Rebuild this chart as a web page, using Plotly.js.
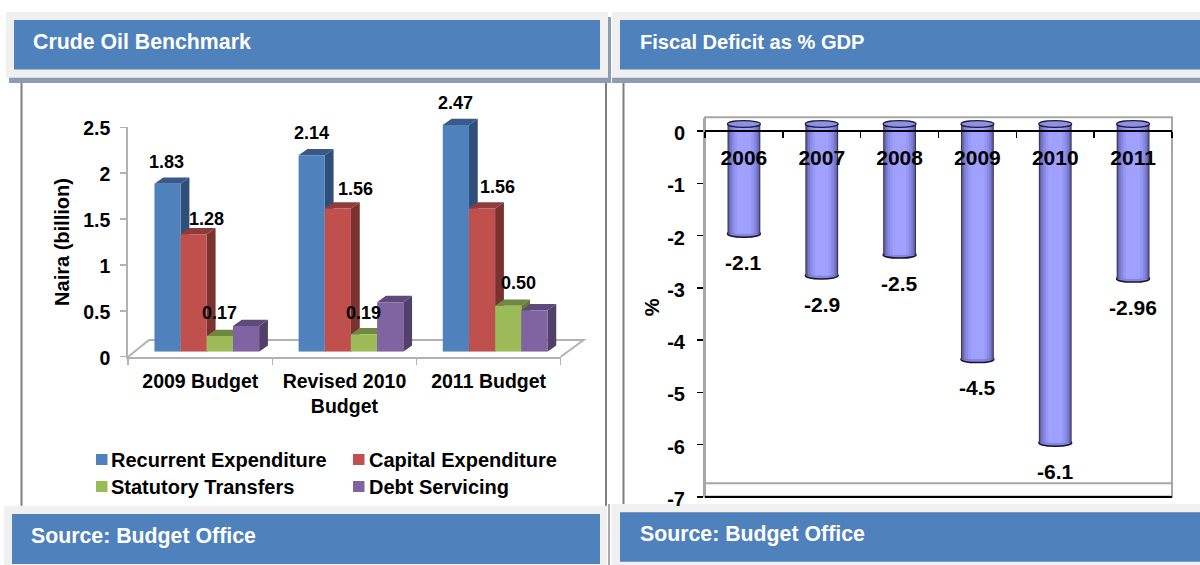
<!DOCTYPE html>
<html>
<head>
<meta charset="utf-8">
<script src="https://cdn.plot.ly/plotly-3.0.1.min.js"></script>
<style>html,body{margin:0;padding:0;background:#fff}#chart{width:1200px;height:565px}</style>
</head>
<body>
<div id="chart"></div>
<script>
// ---- data ----
var budgetCategories = ['2009 Budget', 'Revised 2010<br>Budget', '2011 Budget'];
var recurrent = [1.83, 2.14, 2.47];
var capital = [1.28, 1.56, 1.56];
var statutory = [0.17, 0.19, 0.50];
var debt = [0.28, 0.54, 0.45];
var recurrentLabels = ['1.83', '2.14', '2.47'];
var capitalLabels = ['1.28', '1.56', '1.56'];
var statutoryLabels = ['0.17', '0.19', '0.50'];
var seriesNames = ['Recurrent Expenditure', 'Capital Expenditure', 'Statutory Transfers', 'Debt Servicing'];
var years = ['2006', '2007', '2008', '2009', '2010', '2011'];
var deficit = [-2.1, -2.9, -2.5, -4.5, -6.1, -2.96];
var deficitLabels = ['-2.1', '-2.9', '-2.5', '-4.5', '-6.1', '-2.96'];
var leftTitle = 'Crude Oil Benchmark', rightTitle = 'Fiscal Deficit as % GDP', sourceText = 'Source: Budget Office';

// ---- styles ----
var FONT = '"Liberation Sans", Arial, sans-serif';
var W = 1200, H = 565;
function px(x) { return x / W; }
function py(y) { return 1 - y / H; }
var BLUE = '#4f81bd';
var frontColors = ['#4f81bd', '#c0504d', '#9bbb59', '#8064a2'];
var sideColors = ['#2f4f78', '#7a3230', '#62783a', '#514069'];
var topColors = ['#38598a', '#8f3b39', '#6f8741', '#5e4a79'];
var shapes = [], annotations = [];

function rect(x0, y0, x1, y1, color) {
  shapes.push({type: 'rect', xref: 'paper', yref: 'paper', layer: 'below',
    x0: px(x0), x1: px(x1), y0: py(y0), y1: py(y1), fillcolor: color, line: {width: 0}});
}
function seg(x0, y0, x1, y1, color, w) {
  shapes.push({type: 'line', xref: 'paper', yref: 'paper', layer: 'below',
    x0: px(x0), x1: px(x1), y0: py(y0), y1: py(y1), line: {color: color, width: w}});
}
function text(x, y, t, size, color) {
  annotations.push({xref: 'paper', yref: 'paper', x: px(x), y: py(y), text: '<b>' + t + '</b>', showarrow: false,
    xanchor: 'left', yanchor: 'middle', font: {family: FONT, size: size, color: color}});
}

// ---- panel chrome ----
var PANEL_LINE = '#7f7f7f', SHADOW = '#8c9db3', BAND = '#f0f0f0';
seg(21.5, 80, 21.5, 507, PANEL_LINE, 2);
seg(606, 80, 606, 507, PANEL_LINE, 2);
seg(623.5, 80, 623.5, 507, PANEL_LINE, 2);
rect(9, 17, 611, 83, SHADOW);
rect(6, 12, 608, 77.7, BAND);
rect(14, 20, 600, 69.5, BLUE);
rect(612, 17, 1200, 83, SHADOW);
rect(612, 12, 1200, 77.7, BAND);
rect(620, 20, 1200, 69.5, BLUE);
rect(4, 505.7, 607, 565, BAND);
rect(12, 514, 600, 564, BLUE);
rect(608, 504, 610, 565, '#a9a9a9');
rect(611.5, 504, 1200, 565, BAND);
rect(620, 512.3, 1200, 561.7, BLUE);
text(31, 42, leftTitle, 21.3, '#ffffff');
text(638, 42, rightTitle, 20.1, '#ffffff');
text(29, 536, sourceText, 21.3, '#ffffff');
text(638, 534, sourceText, 21.3, '#ffffff');

// ---- left chart: geometry ----
var LX0 = 128.2, LX1 = 560.7, LY0 = 356.7, LUNIT = 91.76;
var FRONT_DX = 6.5, FRONT_DY = 5, DEPTH_DX = 8.8, DEPTH_DY = 6.3;
var LYMAX = 2.75;
var CAT_PX = (LX1 - LX0) / 3;
var BAR_W = 0.1815;
var dxUnit = DEPTH_DX / CAT_PX, dyUnit = DEPTH_DY / LUNIT;
var AXIS_GREY = '#b2b2b2';

// floor of the 3-D box
shapes.push({type: 'path', xref: 'paper', yref: 'paper', layer: 'below',
  path: 'M' + px(LX0) + ',' + py(LY0) + 'L' + px(149) + ',' + py(340) + 'L' + px(583.6) + ',' + py(340) + 'L' + px(LX1) + ',' + py(LY0),
  line: {color: AXIS_GREY, width: 2}, fillcolor: 'rgba(0,0,0,0)'});

var allSeries = [recurrent, capital, statutory, debt];
var traces = [];
var catIdx = budgetCategories.map(function (_, i) { return i; });
allSeries.forEach(function (vals, s) {
  traces.push({type: 'bar', x: catIdx, y: vals, name: seriesNames[s], xaxis: 'x', yaxis: 'y',
    width: BAR_W, offset: (s - 2) * BAR_W,
    marker: {color: frontColors[s], line: {width: 0}}, hoverinfo: 'y+name', showlegend: false});
});
// depth faces, painted in series order, computed from the values
allSeries.forEach(function (vals, s) {
  vals.forEach(function (v, i) {
    var xl = i + (s - 2) * BAR_W, xr = xl + BAR_W;
    shapes.push({type: 'path', xref: 'x', yref: 'y', layer: 'below',
      path: 'M' + xr + ',0L' + (xr + dxUnit) + ',' + dyUnit + 'L' + (xr + dxUnit) + ',' + (v + dyUnit) + 'L' + xr + ',' + v + 'Z',
      fillcolor: sideColors[s], line: {width: 0}});
    shapes.push({type: 'path', xref: 'x', yref: 'y', layer: 'below',
      path: 'M' + xl + ',' + v + 'L' + (xl + dxUnit) + ',' + (v + dyUnit) + 'L' + (xr + dxUnit) + ',' + (v + dyUnit) + 'L' + xr + ',' + v + 'Z',
      fillcolor: topColors[s], line: {width: 0}});
  });
});
// value labels, anchored on the visible axes
var labelSets = [
  {s: 0, labels: recurrentLabels, dx: [-33.3, -33, -33.2], up: [27.1, 27.3, 26.7]},
  {s: 1, labels: capitalLabels, dx: [5.9, 11, 8.9], up: [20.5, 24.6, 26.9]},
  {s: 2, labels: statutoryLabels, dx: [19.4, 19, 29.5], up: [28.1, 26.6, 27.5]}
];
labelSets.forEach(function (set) {
  set.labels.forEach(function (t, i) {
    annotations.push({xref: 'x2', yref: 'y2', x: i, y: allSeries[set.s][i],
      xshift: set.dx[i], yshift: set.up[i], text: '<b>' + t + '</b>', showarrow: false,
      xanchor: 'center', yanchor: 'middle', font: {family: FONT, size: 18, color: '#000'}});
  });
});
// legend key
var legendPos = [[96, 459.5], [353, 459.5], [96, 486.5], [353, 486.5]];
var legendTextGap = [13, 14, 13, 14];
seriesNames.forEach(function (name, s) {
  rect(legendPos[s][0], legendPos[s][1] - 5.5, legendPos[s][0] + 11.5, legendPos[s][1] + 5.5, frontColors[s]);
  text(legendPos[s][0] + legendTextGap[s], legendPos[s][1], name, 20, '#000');
});

// ---- right chart: geometry ----
var RX0 = 705, RX1 = 1172, RY0 = 131, RUNIT = 52.27, RTOP = 0.256;
var R3D_Y = 124, RYMIN3 = -6.9, RYMAX3 = 0.25;
var CYL_W = 0.422;
// grey frame and floor lines
shapes.push({type: 'rect', xref: 'paper', yref: 'paper', layer: 'below',
  x0: px(RX0), x1: px(RX1), y0: py(496.6), y1: py(117.3), fillcolor: 'rgba(0,0,0,0)', line: {color: '#a6a6a6', width: 2}});
seg(RX0, 483.3, RX1, 483.3, '#a6a6a6', 2);
seg(RX0, 497, RX1, 497, '#000000', 2);

var yearIdx = years.map(function (_, i) { return i; });
// concentric bars build the cylinder's shading, each one drawn from the same values
var shadeWidths = [1, 0.93, 0.84, 0.72, 0.58, 0.42];
var shadeColors = ['#3a3a66', '#6464a8', '#7a7acb', '#8a8ae4', '#9696f6', '#a0a0ff'];
// bottom rims under the bars
deficit.forEach(function (v, i) {
  var ry = 3.4 / RUNIT;
  shapes.push({type: 'circle', xref: 'x3', yref: 'y3', layer: 'below',
    x0: i - CYL_W / 2, x1: i + CYL_W / 2, y0: v - ry, y1: v + ry,
    fillcolor: '#8585dd', line: {color: '#15152e', width: 1.5}});
});
shadeWidths.forEach(function (f, k) {
  traces.push({type: 'bar', x: yearIdx, y: deficit, width: CYL_W * f, offset: -CYL_W * f / 2, xaxis: 'x3', yaxis: 'y3', name: 'Fiscal deficit',
    marker: {color: shadeColors[k], line: {width: 0}}, hoverinfo: k === 0 ? 'y' : 'skip', showlegend: false});
});
// top caps
deficit.forEach(function (v, i) {
  var ry = 3.3 / RUNIT;
  shapes.push({type: 'circle', xref: 'x3', yref: 'y3', layer: 'above',
    x0: i - CYL_W / 2, x1: i + CYL_W / 2, y0: -ry, y1: ry,
    fillcolor: '#8f8fe8', line: {color: '#1c1c38', width: 1.2}});
});
deficitLabels.forEach(function (t, i) {
  annotations.push({xref: 'x4', yref: 'y4', x: i, y: deficit[i], yshift: -21.5, text: '<b>' + t + '</b>', showarrow: false,
    xanchor: 'center', yanchor: 'middle', font: {family: FONT, size: 21, color: '#000'}});
});

var hidden = {visible: false, fixedrange: true};
function axisFont(size) { return {family: FONT, size: size, color: '#000', weight: 700}; }
var layout = {
  width: W, height: H, autosize: false, showlegend: false,
  margin: {l: 0, r: 0, t: 0, b: 0, pad: 0},
  paper_bgcolor: '#ffffff', plot_bgcolor: 'rgba(0,0,0,0)',
  barmode: 'overlay',
  font: {family: FONT},
  shapes: shapes, annotations: annotations,
  // left bars (shifted front plane of the 3-D box)
  xaxis: Object.assign({}, hidden, {domain: [px(LX0 + FRONT_DX), px(LX1 + FRONT_DX)], range: [-0.5, 2.5], anchor: 'y'}),
  yaxis: Object.assign({}, hidden, {domain: [py(LY0 - FRONT_DY), py(LY0 - FRONT_DY - LYMAX * LUNIT)], range: [0, LYMAX], anchor: 'x'}),
  // left visible axes
  xaxis2: {domain: [px(LX0), px(LX1)], range: [-0.5, 2.5], anchor: 'y2', showgrid: false, zeroline: false,
    showline: true, linecolor: AXIS_GREY, linewidth: 2,
    tickmode: 'array', tickvals: catIdx, ticktext: budgetCategories,
    ticks: 'outside', ticklen: 6, tickcolor: 'rgba(0,0,0,0)', tickfont: axisFont(19.5),
    minor: {tickmode: 'array', tickvals: [-0.5, 0.5, 1.5, 2.5], ticks: 'outside', ticklen: 6, tickcolor: AXIS_GREY, tickwidth: 1.5}},
  yaxis2: {domain: [py(LY0), py(LY0 - 2.5 * LUNIT)], range: [0, 2.5], anchor: 'x2', showgrid: false, zeroline: false,
    showline: true, linecolor: AXIS_GREY, linewidth: 2, tickmode: 'array', tickvals: [0, 0.5, 1, 1.5, 2, 2.5],
    ticktext: ['0', '0.5', '1', '1.5', '2', '2.5'],
    ticks: 'outside', ticklen: 6, tickcolor: AXIS_GREY, tickwidth: 1.5, tickfont: axisFont(19.5), ticklabelstandoff: 6, ticklabelshift: 1,
    title: {text: '<b>Naira (billion)</b>', font: {family: FONT, size: 20, color: '#000'}, standoff: 8}},
  // right bars
  xaxis3: Object.assign({}, hidden, {domain: [px(RX0), px(RX1)], range: [-0.5, 5.5], anchor: 'y3'}),
  yaxis3: Object.assign({}, hidden, {domain: [py(R3D_Y - RYMIN3 * RUNIT), py(R3D_Y - RYMAX3 * RUNIT)], range: [RYMIN3, RYMAX3], anchor: 'x3'}),
  // right visible axes
  xaxis4: {domain: [px(RX0), px(RX1)], range: [-0.5, 5.5], anchor: 'free', position: py(RY0), side: 'bottom', showgrid: false, zeroline: false,
    showline: true, linecolor: '#000', linewidth: 2, tickmode: 'array', tickvals: yearIdx, ticktext: years,
    ticks: 'outside', ticklen: 6, tickcolor: 'rgba(0,0,0,0)', tickfont: axisFont(21), ticklabelstandoff: 2,
    minor: {tickmode: 'array', tickvals: [-0.5, 0.5, 1.5, 2.5, 3.5, 4.5, 5.5], ticks: 'outside', ticklen: 6, tickcolor: '#000', tickwidth: 1.5}},
  yaxis4: {domain: [py(RY0 + 7 * RUNIT), py(RY0 - RTOP * RUNIT)], range: [-7, RTOP], anchor: 'x4', showgrid: false, zeroline: false,
    showline: true, linecolor: '#a6a6a6', linewidth: 2, tickmode: 'array', tickvals: [0, -1, -2, -3, -4, -5, -6, -7],
    ticktext: ['0', '-1', '-2', '-3', '-4', '-5', '-6', '-7'],
    ticks: 'outside', ticklen: 6, tickcolor: '#000', tickwidth: 1.5, tickfont: axisFont(20), ticklabelstandoff: 8, ticklabelshift: 2,
    title: {text: '<b>%</b>', font: {family: FONT, size: 20, color: '#000'}, standoff: 2}}
};
Plotly.newPlot('chart', traces, layout, {displayModeBar: false, staticPlot: true});
</script>
</body>
</html>
